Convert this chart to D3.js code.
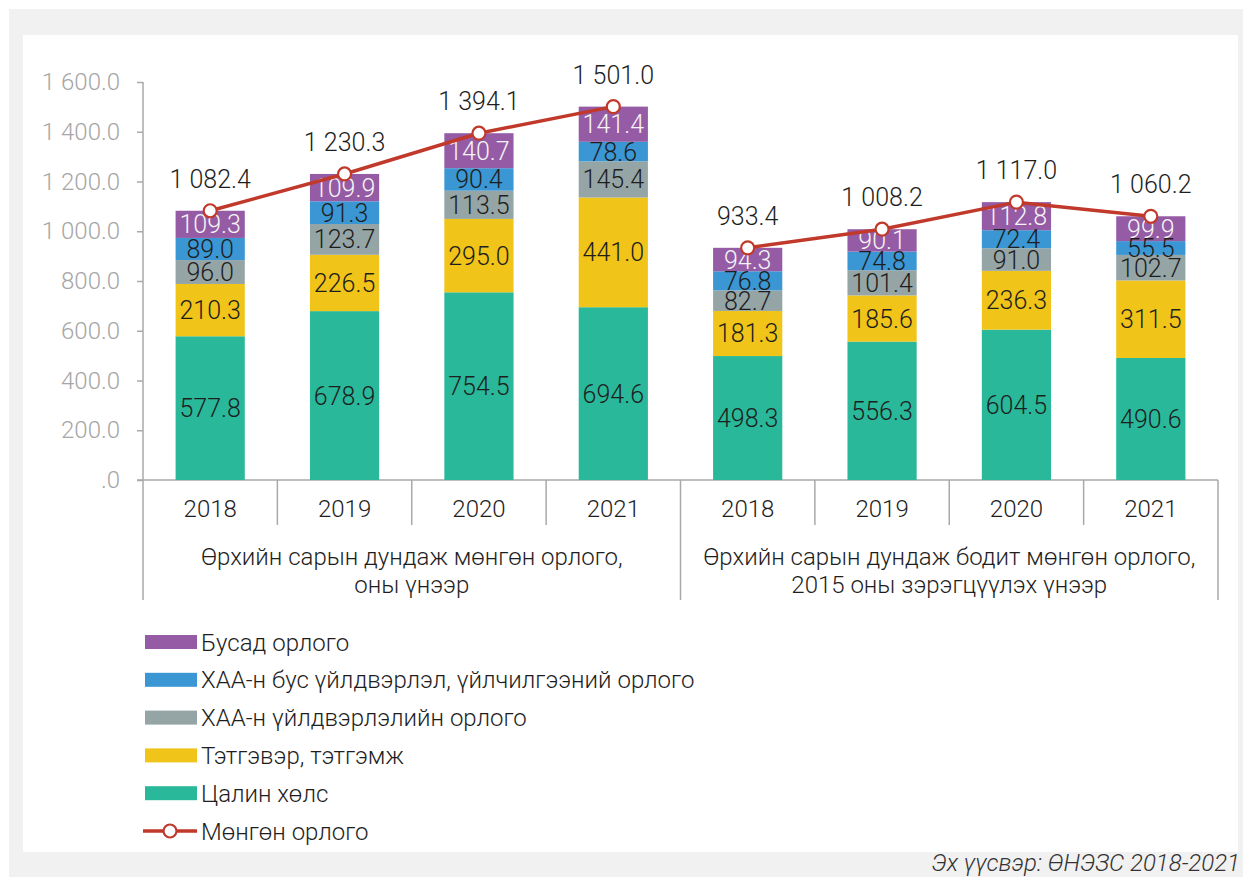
<!DOCTYPE html>
<html><head><meta charset="utf-8">
<script src="https://cdn.jsdelivr.net/npm/d3@7"></script>
<style>
html,body{margin:0;padding:0;background:#fff;}
text{font-family:Roboto,"Noto Sans",sans-serif;}
</style></head>
<body><svg id="c" width="1243" height="877"></svg>
<script>
const years = ["2018","2019","2020","2021","2018","2019","2020","2021"];
const groupLabels = [
  ["Өрхийн сарын дундаж мөнгөн орлого,","оны үнээр"],
  ["Өрхийн сарын дундаж бодит мөнгөн орлого,","2015 оны зэрэгцүүлэх үнээр"]
];
const seriesNames = ["Цалин хөлс","Тэтгэвэр, тэтгэмж","ХАА-н үйлдвэрлэлийн орлого","ХАА-н бус үйлдвэрлэл, үйлчилгээний орлого","Бусад орлого"];
const wages     = [577.8, 678.9, 754.5, 694.6, 498.3, 556.3, 604.5, 490.6];
const pensions  = [210.3, 226.5, 295.0, 441.0, 181.3, 185.6, 236.3, 311.5];
const agri      = [96.0, 123.7, 113.5, 145.4, 82.7, 101.4, 91.0, 102.7];
const nonAgri   = [89.0, 91.3, 90.4, 78.6, 76.8, 74.8, 72.4, 55.5];
const other     = [109.3, 109.9, 140.7, 141.4, 94.3, 90.1, 112.8, 99.9];
const totalIncome = [1082.4, 1230.3, 1394.1, 1501.0, 933.4, 1008.2, 1117.0, 1060.2];
const lineName = "Мөнгөн орлого";
const yTicks = [0,200,400,600,800,1000,1200,1400,1600];
const sourceText = "Эх үүсвэр: ӨНЭЗС 2018-2021";

const colors = ["#29b99a","#f1c419","#95a5a6","#3a97d4","#955ba5"];
const labelColors = ["#1e1e1e","#1e1e1e","#1e1e1e","#1e1e1e","#f4f4f4"];
const lineColor = "#c0392b";
const FS = 24;

const svg = d3.select("#c");
// frame
svg.append("rect").attr("x",9).attr("y",9).attr("width",1234).attr("height",868).attr("fill","#f1f1f1");
svg.append("rect").attr("x",23).attr("y",35).attr("width",1215).attr("height",817).attr("fill","#fff");

const x0 = 143, x1 = 1218;
const x = d3.scaleBand().domain(d3.range(8)).range([x0,x1]).padding(0);
const y = d3.scaleLinear().domain([0,1600]).range([480,82]);
const bw = x.bandwidth()*0.515;
const cx = i => x(i)+x.bandwidth()/2;

const fmt = v => {
  const s = v.toFixed(1);
  let [a,b] = s.split(".");
  a = a.replace(/\B(?=(\d{3})+(?!\d))/g," ");
  if (a==="0") a="";
  return a+"."+b;
};

// y axis
const axisColor = "#a9a9a9";
const yAxis = d3.axisLeft(y).tickValues(yTicks).tickSize(6).tickPadding(17).tickFormat(fmt);
const ga = svg.append("g").attr("transform",`translate(${x0},0)`).call(yAxis);
ga.select(".domain").remove();
ga.selectAll(".tick line").attr("stroke",axisColor).attr("stroke-width",1.5);
ga.selectAll(".tick text").attr("fill","#a6a6a6").attr("font-size",FS).attr("font-weight",300).attr("font-family","Roboto");
svg.append("line").attr("x1",x0).attr("x2",x0).attr("y1",82).attr("y2",600).attr("stroke",axisColor).attr("stroke-width",1.5);

// x axis baseline
svg.append("line").attr("x1",x0-6).attr("x2",x1).attr("y1",480).attr("y2",480).attr("stroke",axisColor).attr("stroke-width",1.5);
// category separators
d3.range(1,9).forEach(i=>{
  const xx = i===8 ? x1 : x(i);
  const long = (i===4 || i===8);
  svg.append("line").attr("x1",xx).attr("x2",xx).attr("y1",480).attr("y2",long?600:525).attr("stroke",axisColor).attr("stroke-width",1.5);
});
years.forEach((t,i)=>{
  svg.append("text").attr("x",cx(i)).attr("y",508).attr("dy","0.36em").attr("text-anchor","middle").attr("font-size",FS).attr("font-weight",300).attr("fill","#1e1e1e").text(t);
});
groupLabels.forEach((lines,g)=>{
  const gc = (x(g*4) + (g===1? x1 : x(4)))/2;
  lines.forEach((l,k)=>{
    svg.append("text").attr("x",gc).attr("y",556+k*28).attr("dy","0.36em").attr("text-anchor","middle").attr("font-size",FS).attr("font-weight",300).attr("fill","#1e1e1e").text(l);
  });
});

// stacked bars
const seriesArr = [wages,pensions,agri,nonAgri,other];
const rows = d3.range(8).map(i=>{const o={i}; seriesArr.forEach((s,k)=>o["s"+k]=s[i]); return o;});
const stack = d3.stack().keys(d3.range(5).map(k=>"s"+k))(rows);
stack.forEach((layer,k)=>{
  const g = svg.append("g");
  g.selectAll("rect").data(layer).join("rect")
    .attr("x",d=>cx(d.data.i)-bw/2).attr("width",bw)
    .attr("y",d=>y(d[1])).attr("height",d=>y(d[0])-y(d[1]))
    .attr("fill",colors[k]);
});
stack.forEach((layer,k)=>{
  svg.append("g").selectAll("text").data(layer).join("text")
    .attr("x",d=>cx(d.data.i)).attr("y",d=>(y(d[0])+y(d[1]))/2)
    .attr("dy","0.36em").attr("text-anchor","middle").attr("font-size",25).attr("font-weight",300)
    .attr("fill",labelColors[k]).text(d=>fmt(d[1]-d[0]));
});

// line
[[0,4],[4,8]].forEach(([a,b])=>{
  const idx = d3.range(a,b);
  svg.append("path").datum(idx).attr("d",d3.line().x(i=>cx(i)).y(i=>y(totalIncome[i])))
    .attr("fill","none").attr("stroke",lineColor).attr("stroke-width",3.5);
});
svg.append("g").selectAll("circle").data(totalIncome).join("circle")
  .attr("cx",(d,i)=>cx(i)).attr("cy",d=>y(d)).attr("r",6.5)
  .attr("fill","#fff").attr("stroke",lineColor).attr("stroke-width",2.2);
svg.append("g").selectAll("text").data(totalIncome).join("text")
  .attr("x",(d,i)=>cx(i)).attr("y",d=>y(d)-32).attr("dy","0.36em")
  .attr("text-anchor","middle").attr("font-size",25).attr("font-weight",300).attr("fill","#1e1e1e")
  .text(d=>fmt(d));

// legend
const legItems = [4,3,2,1,0];
legItems.forEach((k,r)=>{
  const ly = 642 + r*37.8;
  svg.append("rect").attr("x",145).attr("y",ly-7).attr("width",52).attr("height",14).attr("fill",colors[k]);
  svg.append("text").attr("x",201).attr("y",ly).attr("dy","0.36em").attr("font-size",FS).attr("font-weight",300).attr("fill","#1e1e1e").text(seriesNames[k]);
});
{
  const ly = 642 + 5*37.8;
  svg.append("line").attr("x1",143).attr("x2",197).attr("y1",ly).attr("y2",ly).attr("stroke",lineColor).attr("stroke-width",3.5);
  svg.append("circle").attr("cx",170).attr("cy",ly).attr("r",6.5).attr("fill","#fff").attr("stroke",lineColor).attr("stroke-width",2.2);
  svg.append("text").attr("x",201).attr("y",ly).attr("dy","0.36em").attr("font-size",FS).attr("font-weight",300).attr("fill","#1e1e1e").text(lineName);
}

// source
svg.append("text").attr("x",1240).attr("y",862).attr("dy","0.36em").attr("text-anchor","end").attr("font-size",FS).attr("font-style","italic").attr("font-weight",300).attr("fill","#333").text(sourceText);
</script></body></html>
